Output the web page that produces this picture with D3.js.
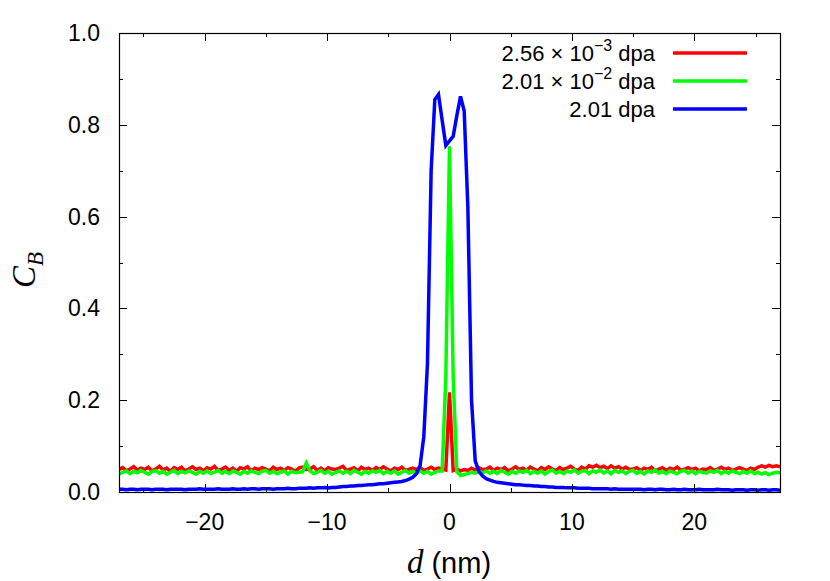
<!DOCTYPE html>
<html>
<head>
<meta charset="utf-8">
<script src="https://cdn.jsdelivr.net/npm/d3@7"></script>
<style>
  body { margin: 0; background: #fff; }
  text { font-family: "Liberation Sans", Arial, Helvetica, sans-serif; fill: #000; }
</style>
</head>
<body>
<script>
// d grid: -27 .. 27 nm, 0.3 nm bins (181 points)
const dStart = -27, dStep = 0.3, nPoints = 181;

const red = [
  .049,.053,.046,.050,.055,.048,.052,.049,.054,.046,
  .050,.056,.048,.052,.045,.053,.049,.054,.046,.050,
  .055,.049,.052,.046,.053,.050,.056,.047,.050,.054,
  .047,.052,.045,.053,.050,.055,.046,.052,.049,.053,
  .050,.046,.054,.049,.052,.047,.053,.050,.045,.052,
  .054,.049,.050,.055,.047,.052,.046,.053,.050,.049,
  .052,.056,.047,.050,.053,.046,.054,.049,.052,.047,
  .053,.049,.055,.050,.046,.052,.049,.054,.047,.050,
  .052,.049,.053,.047,.050,.054,.049,.052,.050,.048,
  .217,.047,.050,.046,.049,.047,.052,.048,.053,.049,
  .050,.054,.047,.052,.049,.053,.046,.050,.055,.049,
  .052,.047,.054,.050,.046,.053,.049,.055,.050,.047,
  .053,.049,.052,.056,.050,.047,.054,.050,.057,.054,
  .058,.053,.056,.051,.057,.052,.055,.050,.054,.049,
  .050,.053,.047,.052,.049,.054,.046,.050,.053,.047,
  .052,.049,.054,.047,.050,.053,.049,.052,.046,.050,
  .049,.053,.047,.050,.054,.049,.052,.047,.050,.053,
  .050,.047,.052,.049,.054,.057,.054,.058,.055,.057,
  .055
];

const green = [
  .039,.043,.046,.040,.045,.042,.047,.043,.039,.045,
  .046,.041,.045,.039,.043,.047,.040,.045,.042,.046,
  .043,.039,.045,.041,.046,.040,.043,.047,.041,.045,
  .040,.046,.043,.039,.045,.041,.046,.043,.040,.045,
  .047,.041,.045,.040,.043,.046,.039,.045,.042,.043,
  .044,.063,.046,.040,.043,.047,.041,.045,.039,.043,
  .046,.041,.045,.040,.047,.043,.039,.045,.041,.046,
  .043,.047,.040,.045,.041,.046,.039,.043,.047,.041,
  .045,.040,.046,.041,.045,.039,.043,.046,.046,.250,
  .753,.250,.044,.036,.038,.040,.043,.041,.045,.042,
  .046,.041,.045,.040,.047,.043,.039,.045,.041,.046,
  .043,.047,.040,.045,.041,.046,.039,.045,.048,.041,
  .045,.040,.046,.043,.048,.041,.045,.047,.040,.046,
  .043,.048,.041,.046,.040,.047,.043,.046,.040,.045,
  .047,.041,.045,.039,.046,.043,.048,.041,.045,.040,
  .046,.043,.040,.045,.047,.041,.046,.040,.045,.043,
  .041,.046,.043,.047,.040,.045,.041,.046,.043,.040,
  .045,.041,.046,.040,.043,.039,.042,.038,.041,.043,
  .042
];

const blue = [
  .006,.006,.005,.006,.006,.005,.006,.006,.006,.005,
  .006,.006,.006,.005,.006,.006,.006,.006,.005,.006,
  .006,.006,.007,.006,.006,.006,.006,.007,.006,.006,
  .006,.007,.006,.006,.007,.006,.007,.007,.006,.007,
  .007,.007,.006,.007,.007,.007,.008,.007,.007,.008,
  .008,.008,.009,.008,.009,.009,.010,.009,.010,.010,
  .011,.012,.012,.013,.013,.014,.014,.015,.016,.016,
  .017,.018,.018,.019,.020,.021,.022,.023,.025,.028,
  .032,.040,.058,.120,.280,.700,.855,.866,.810,.755,
  .765,.775,.820,.862,.830,.620,.200,.068,.045,.035,
  .029,.026,.023,.021,.020,.019,.018,.017,.016,.016,
  .015,.014,.014,.013,.013,.012,.012,.011,.011,.010,
  .010,.010,.009,.009,.009,.008,.008,.008,.008,.007,
  .007,.007,.007,.007,.006,.007,.006,.006,.006,.006,
  .006,.006,.006,.005,.006,.006,.005,.006,.006,.005,
  .005,.006,.005,.005,.006,.005,.005,.005,.006,.005,
  .005,.005,.005,.006,.005,.005,.005,.004,.005,.005,
  .005,.004,.005,.005,.004,.005,.005,.004,.005,.005,
  .004
];

const series = [
  { key: "red", color: "#ff0000", values: red, base: "2.56", exp: "\u22123" },
  { key: "green", color: "#00ff00", values: green, base: "2.01", exp: "\u22122" },
  { key: "blue", color: "#0000ff", values: blue, base: "2.01", exp: null },
];

const xTicks = [-20, -10, 0, 10, 20];
const yTicks = [0, 0.2, 0.4, 0.6, 0.8, 1.0];

const W = 830, H = 581;
const margin = { top: 33, right: 50, bottom: 89, left: 119 },
  width = W - margin.left - margin.right,
  height = H - margin.top - margin.bottom;

const svg = d3
  .select("body")
  .append("svg")
  .attr("width", W)
  .attr("height", H);

const g = svg.append("g").attr("transform", `translate(${margin.left},${margin.top})`);

const x = d3.scaleLinear().domain([-27, 27]).range([0, width]);
const y = d3.scaleLinear().domain([0, 1]).range([height, 0]);

const dValues = d3.range(nPoints).map((i) => dStart + i * dStep);

// data lines
const line = d3
  .line()
  .x((d) => x(d[0]))
  .y((d) => y(d[1]));

g.append("defs")
  .append("clipPath")
  .attr("id", "clip")
  .append("rect")
  .attr("width", width)
  .attr("height", height);

series.forEach((s) => {
  g.append("path")
    .datum(dValues.map((d, i) => [d, s.values[i]]))
    .attr("clip-path", "url(#clip)")
    .attr("fill", "none")
    .attr("stroke", s.color)
    .attr("stroke-width", 3.5)
    .attr("stroke-linejoin", "miter")
    .attr("d", line);
});

// ticks (inward, mirrored on all sides)
const xMinor = d3.range(-25, 26, 5).filter((v) => !xTicks.includes(v));
const yMinor = [0.1, 0.3, 0.5, 0.7, 0.9];
const major = 8, minor = 4;

const tickG = g.append("g").attr("stroke", "#000").attr("stroke-width", 1);
[...xTicks.map((v) => [v, major]), ...xMinor.map((v) => [v, minor])].forEach(([v, len]) => {
  const px = Math.round(x(v)) + 0.5;
  tickG.append("line").attr("x1", px).attr("x2", px).attr("y1", height).attr("y2", height - len);
  tickG.append("line").attr("x1", px).attr("x2", px).attr("y1", 0).attr("y2", len);
});
[...yTicks.map((v) => [v, major]), ...yMinor.map((v) => [v, minor])].forEach(([v, len]) => {
  const py = Math.round(y(v)) + 0.5;
  tickG.append("line").attr("y1", py).attr("y2", py).attr("x1", 0).attr("x2", len);
  tickG.append("line").attr("y1", py).attr("y2", py).attr("x1", width).attr("x2", width - len);
});

// frame
g.append("rect")
  .attr("x", 0.5)
  .attr("y", 0.5)
  .attr("width", width)
  .attr("height", height)
  .attr("fill", "none")
  .attr("stroke", "#000")
  .attr("stroke-width", 1.2);

// tick labels
g.append("g")
  .selectAll("text")
  .data(xTicks)
  .join("text")
  .attr("x", (d) => x(d))
  .attr("y", height + 38)
  .attr("text-anchor", "middle")
  .style("font-size", "23px")
  .text((d) => (d < 0 ? "\u2212" + Math.abs(d) : d));

g.append("g")
  .selectAll("text")
  .data(yTicks)
  .join("text")
  .attr("x", -19)
  .attr("y", (d) => y(d) + 8)
  .attr("text-anchor", "end")
  .style("font-size", "23px")
  .text((d) => d3.format(".1f")(d));

// axis titles
const xl = svg
  .append("text")
  .attr("x", 449)
  .attr("y", 573)
  .attr("text-anchor", "middle")
  .style("font-size", "29px");
xl.append("tspan")
  .style("font-family", "'Liberation Serif', 'DejaVu Serif', serif")
  .style("font-style", "italic")
  .style("font-size", "33px")
  .text("d");
xl.append("tspan").text(" (nm)");

const yl = svg
  .append("text")
  .attr("transform", "translate(35,270) rotate(-90)")
  .attr("text-anchor", "middle")
  .style("font-family", "'Liberation Serif', 'DejaVu Serif', serif")
  .style("font-style", "italic");
yl.append("tspan").style("font-size", "33px").text("C");
yl.append("tspan").style("font-size", "23px").attr("dy", 8).text("B");

// legend
const legend = svg.append("g");
series.forEach((s, i) => {
  const ly = 53 + i * 28;
  const t = legend
    .append("text")
    .attr("x", 655)
    .attr("y", ly + 8)
    .attr("text-anchor", "end")
    .style("font-size", "22px");
  if (s.exp) {
    t.append("tspan").text(`${s.base} \u00d7 10`);
    t.append("tspan").attr("dy", -10).style("font-size", "16px").text(s.exp);
    t.append("tspan").attr("dy", 10).text(" dpa");
  } else {
    t.append("tspan").text(`${s.base} dpa`);
  }
  legend
    .append("line")
    .attr("x1", 673)
    .attr("x2", 747)
    .attr("y1", ly)
    .attr("y2", ly)
    .attr("stroke", s.color)
    .attr("stroke-width", 3.5);
});
</script>
</body>
</html>
